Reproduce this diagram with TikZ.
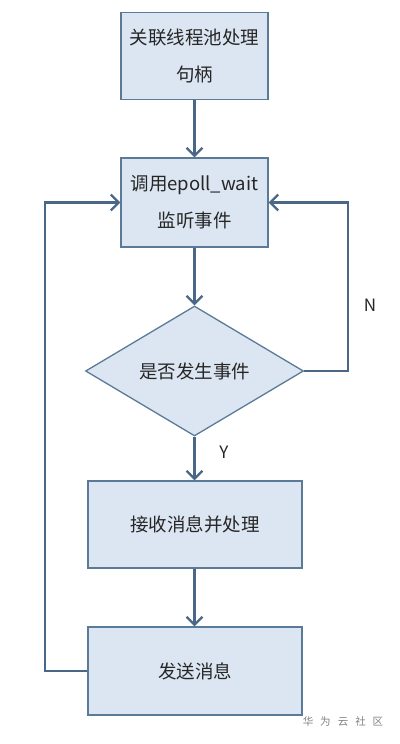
\documentclass[tikz,border=0pt]{standalone}
\usepackage{fontspec}
\setmainfont{Noto Sans CJK SC}
\usetikzlibrary{arrows.meta,shapes.geometric}
\definecolor{boxfill}{HTML}{DCE6F2}
\definecolor{boxline}{HTML}{5B7A98}
\definecolor{arrowc}{HTML}{4A6886}
\definecolor{txt}{HTML}{262626}
\tikzset{
  flowbox/.style={draw=boxline, fill=boxfill, line width=1.3pt, inner sep=0pt, text=txt, font=\fontsize{18.5}{37}\selectfont, align=center},
  flowline/.style={draw=arrowc, line width=2.8pt},
  flowarrow/.style={flowline, -{Straight Barb[length=8pt,width=16pt,line width=2.2pt]}},
  lbl/.style={text=txt, font=\fontsize{17}{18}\selectfont}
}
\begin{document}
\begin{tikzpicture}[x=1pt,y=-1pt]
\useasboundingbox (0,0) rectangle (399,744);
\node[flowbox, minimum width=147pt, minimum height=87pt] (b1) at (194.5,56) {关联线程池处理\\句柄};
\node[flowbox, minimum width=147pt, minimum height=89pt] (b2) at (194.5,202.5) {调用epoll\_wait\\监听事件};
\node[flowbox, diamond, aspect=1.677, minimum width=218pt, minimum height=130pt, font=\fontsize{18.5}{20}\selectfont] (d) at (194.5,371) {是否发生事件};
\node[flowbox, minimum width=214pt, minimum height=87pt] (b3) at (195,524.5) {接收消息并处理};
\node[flowbox, minimum width=214pt, minimum height=88pt] (b4) at (195,671) {发送消息};
\coordinate (rt) at (348,371);
\coordinate (lt) at (45,671);
\node[lbl] (n) at (370,305) {N};
\node[lbl] (y) at (224,452) {Y};
\node[text=gray, font=\fontsize{10.5}{12}\selectfont] (wm) at (343,721) {华\hspace{7pt}为\hspace{7pt}云\hspace{7pt}社\hspace{7pt}区};
\draw[flowarrow] (b1.south) -- (b2.north);
\draw[flowarrow] (b2.south) -- (d.north);
\draw[flowarrow] (d.south) -- (b3.north -| d.south);
\draw[flowarrow] (b3.south -| d.south) -- (b4.north -| d.south);
\draw[flowarrow] (d.east) -- (rt) |- (b2.east);
\draw[flowarrow] (b4.west) -- (lt) |- (b2.west);
\end{tikzpicture}
\end{document}
